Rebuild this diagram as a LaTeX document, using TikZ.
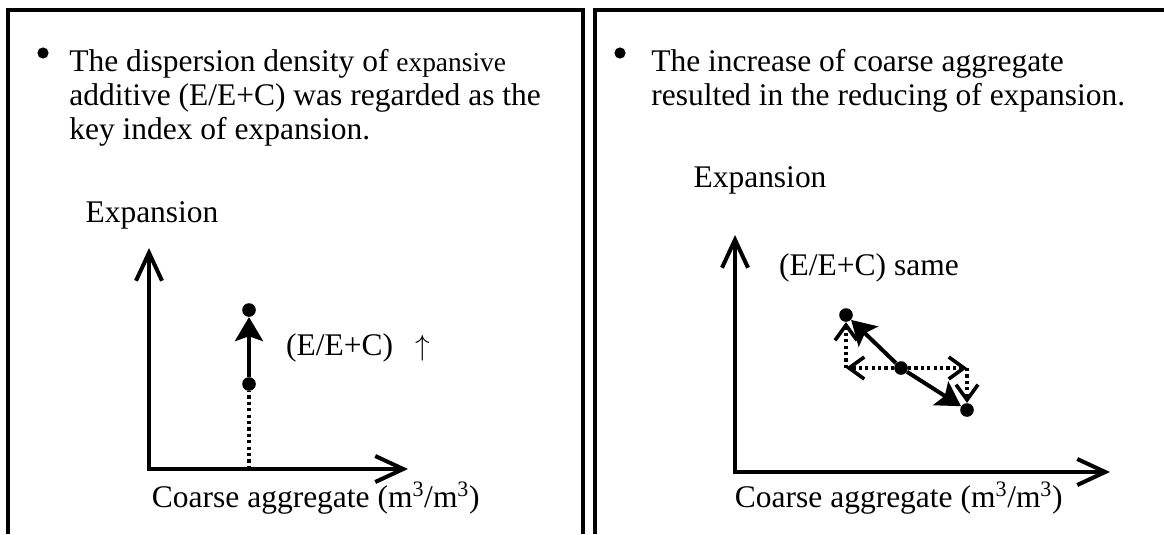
\documentclass[tikz,border=0pt]{standalone}
\usepackage{fontspec}
\setmainfont{Liberation Serif}
\usetikzlibrary{arrows.meta}

\begin{document}
\begin{tikzpicture}[font=\fontsize{22.4}{24.2}\selectfont,
    dot/.style={circle,fill=black,inner sep=0pt,minimum size=0.34cm},
    bul/.style={circle,fill=black,inner sep=0pt,minimum size=0.28cm},
    axis/.style={line width=0.1cm,{Straight Barb[length=0.7cm,width=0.65cm]}-{Straight Barb[length=0.7cm,width=0.65cm]}},
    move/.style={line width=0.1cm,-{Stealth[length=0.6cm,width=0.7cm,inset=0.12cm]}},
    trail/.style={line width=0.09cm,dash pattern=on 0.08cm off 0.08cm},
    part/.style={trail,-{Straight Barb[length=0.38cm,width=0.55cm]}}]
    \useasboundingbox (0,0) rectangle (29.1,13.35);
    \draw[line width=0.1cm] (0.2,0)--(0.2,13.1)--(14.575,13.1)--(14.575,0);
    \draw[line width=0.1cm] (14.875,0)--(14.875,13.1)--(29.2,13.1);

    % left panel
    \node [bul] (b1) at (1.075,12.025){};
    \node [anchor=north west,align=left,inner sep=0] (h1) at (1.725,12.12)
        {The dispersion density of {\fontsize{19.5}{24.2}\selectfont expansive}\\additive (E/E+C) was regarded as the\\key index of expansion.};
    \coordinate (O1) at (3.725,1.625);
    \draw[axis] (3.725,7.15)--(O1)--(10.2,1.625);
    \node (ye1) at (3.8,7.975){Expansion};
    \node [anchor=west] (xe1) at (3.675,0.9){Coarse aggregate (m\textsuperscript{3}/m\textsuperscript{3})};
    \node [dot] (L0) at (6.225,3.75){};
    \node [dot] (L1) at (6.225,5.6){};
    \coordinate (F1) at (6.225,1.625);
    \draw[trail] (F1)--(L0);
    \draw[move] (L0)--(L1);
    \node (t1) at (8.95,4.65){(E/E+C)\hspace{0.55cm}$\uparrow$};

    % right panel
    \node [bul] (b2) at (15.5,12.025){};
    \node [anchor=north west,align=left,inner sep=0] (h2) at (16.275,12.12)
        {The increase of coarse aggregate\\resulted in the reducing of expansion.};
    \coordinate (O2) at (18.375,1.55);
    \draw[axis] (18.375,7.475)--(O2)--(27.75,1.55);
    \node (ye2) at (19.0,8.85){Expansion};
    \node [anchor=west] (xe2) at (18.25,0.9){Coarse aggregate (m\textsuperscript{3}/m\textsuperscript{3})};
    \node (t2) at (21.725,6.65){(E/E+C) same};
    \node [dot] (R1) at (21.15,5.475){};
    \node [dot] (R0) at (22.525,4.15){};
    \node [dot] (R2) at (24.175,3.1){};
    \coordinate (c1) at (R1 |- R0);
    \coordinate (c2) at (R2 |- R0);
    \draw[part] (R0)--(c1);
    \draw[part] (c1)--(R1);
    \draw[part] (R0)--(c2);
    \draw[part] (c2)--(R2);
    \draw[move] (R0)--(R1);
    \draw[move] (R0)--(R2);
\end{tikzpicture}
\end{document}
